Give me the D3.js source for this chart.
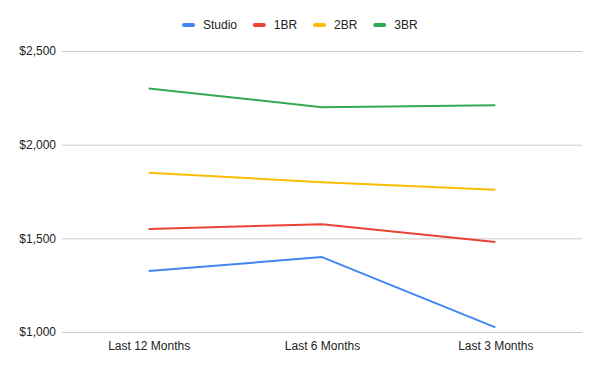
<!DOCTYPE html>
<html>
<head>
<meta charset="utf-8">
<script src="https://cdn.jsdelivr.net/npm/d3@7"></script>
<style>
  body { margin: 0; background: #fff; }
  svg text { font-family: "Liberation Sans", Arial, sans-serif; }
</style>
</head>
<body>
<svg id="chart" width="600" height="371"></svg>
<script>
const periods = ["Last 12 Months", "Last 6 Months", "Last 3 Months"];
const seriesNames = ["Studio", "1BR", "2BR", "3BR"];
const seriesColours = ["#4285f4", "#ea4335", "#fbbc04", "#34a853"];
const studio = [1325, 1400, 1025];
const oneBR = [1550, 1575, 1480];
const twoBR = [1850, 1800, 1760];
const threeBR = [2300, 2200, 2210];
const yTicks = [1000, 1500, 2000, 2500];

const series = [studio, oneBR, twoBR, threeBR].map((values, i) => ({
    name: seriesNames[i],
    colour: seriesColours[i],
    values
}));

const svg = d3.select("#chart");
const margin = {top: 51, right: 18, bottom: 39, left: 62};
const width = +svg.attr("width");
const height = +svg.attr("height");

const x = d3.scalePoint()
    .domain(periods)
    .range([margin.left, width - margin.right])
    .padding(0.5);

const y = d3.scaleLinear()
    .domain([1000, 2500])
    .range([height - margin.bottom, margin.top]);

// gridlines + y labels
const yAxis = svg.append("g")
    .attr("transform", `translate(${margin.left},0)`)
    .call(d3.axisLeft(y)
        .tickValues(yTicks)
        .tickSize(-(width - margin.left - margin.right))
        .tickPadding(6)
        .tickFormat(d => "$" + d3.format(",")(d)));
yAxis.select(".domain").remove();
yAxis.selectAll(".tick line").attr("stroke", "#cccccc");
yAxis.selectAll(".tick text")
    .attr("fill", "#222")
    .attr("font-size", 12);

const xAxis = svg.append("g")
    .attr("transform", `translate(0,${height - margin.bottom})`)
    .call(d3.axisBottom(x).tickSize(0).tickPadding(9));
xAxis.select(".domain").remove();
xAxis.selectAll(".tick text")
    .attr("fill", "#222")
    .attr("font-size", 12);

const line = d3.line()
    .x((d, i) => x(periods[i]))
    .y(d => y(d));

svg.append("g").selectAll("path")
    .data(series)
    .join("path")
        .attr("fill", "none")
        .attr("stroke", d => d.colour)
        .attr("stroke-width", 2)
        .attr("stroke-linejoin", "round")
        .attr("d", d => line(d.values));

// legend
const legend = svg.append("g");
const items = legend.selectAll("g")
    .data(series)
    .join("g");
items.append("rect")
    .attr("width", 13)
    .attr("height", 4)
    .attr("rx", 2)
    .attr("y", -2)
    .attr("fill", d => d.colour);
items.append("text")
    .attr("x", 21)
    .attr("dy", "0.35em")
    .attr("font-size", 12)
    .attr("fill", "#222")
    .text(d => d.name);

let offset = 0;
const positions = [];
items.each(function () {
    positions.push(offset);
    offset += this.getBBox().width + 15.5;
});
const startX = 182;
items.attr("transform", (d, i) => `translate(${startX + positions[i]},25)`);
</script>
</body>
</html>
